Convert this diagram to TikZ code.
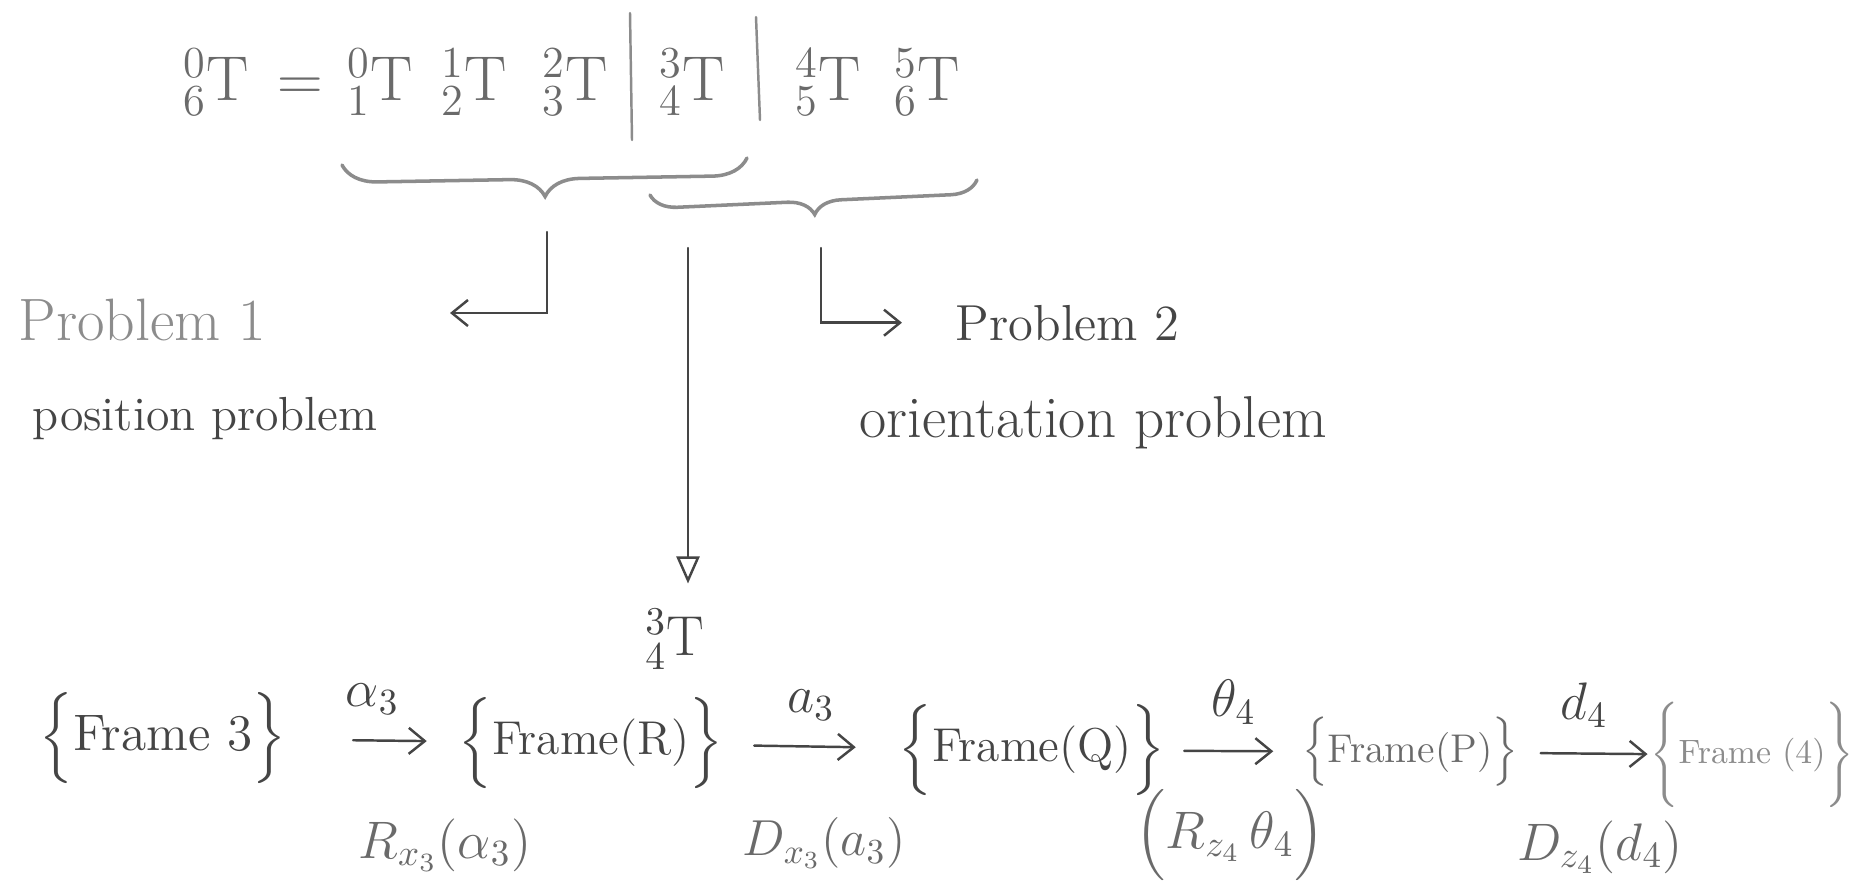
\documentclass[tikz,border=0pt]{standalone}
\usepackage{fix-cm}
\usepackage{amsmath}
\usepackage{fontspec}
\usetikzlibrary{arrows.meta,calc,positioning,decorations.pathreplacing}
\definecolor{Lead}{HTML}{454545}
\definecolor{Graphite}{HTML}{6A6A6A}
\definecolor{Smudge}{HTML}{8C8C8C}

\tikzset{
  hand/.style={inner sep=0pt, text=Lead, font=\fontsize{#1}{#1}\selectfont},
  hand/.default=15,
  pen/.style={draw=Lead, line width=0.7pt, line cap=round},
  bracepen/.style={draw=Smudge, line width=1pt, line cap=round, decorate, decoration={brace, mirror, amplitude=#1}},
  barb/.style={-{Straight Barb[length=1.6mm, width=2.6mm]}},
}

\begin{document}
\begin{tikzpicture}[x=0.01cm, y=-0.01cm]
  \fill[white] (0,0) rectangle (1857,887);
  \useasboundingbox (0,0) rectangle (1857,887);

  % the product of link transforms
  \node[hand=18, text=Graphite, anchor=base] (t06) at (216,100) {${}^{0}_{6}\mathrm{T}$};
  \node[hand=18, text=Graphite, anchor=base] (eq) at (300,100) {$=$};
  \foreach \nm/\px/\up/\dn in {t01/380/0/1, t12/474/1/2, t23/575/2/3, t34/692/3/4, t45/828/4/5, t56/927/5/6}
    \node[hand=18, text=Graphite, anchor=base] (\nm) at (\px,100) {${}^{\up}_{\dn}\mathrm{T}$};
  \draw[pen, draw=Smudge] (630,13) -- (632,140);
  \draw[pen, draw=Smudge] (756,17) -- (760,120);

  % two overlapping groups
  \draw[bracepen=0.35cm] (342,165) -- (747,158);
  \draw[bracepen=0.27cm] (650,195) -- (977,180);
  \coordinate (tip1) at (547,232);
  \coordinate (pos1) at (450,313);
  \coordinate (mid) at (688,248);
  \coordinate (tip2) at (821,248);

  \node[hand=17, text=Smudge, anchor=base west] (p1) at (18,340) {Problem 1};
  \node[hand=13.6, anchor=base west] (p1txt) at (32,430) {position problem};
  \node[hand=14.4, anchor=base west] (p2) at (955,340) {Problem 2};
  \node[hand=16.8, anchor=base west] (p2txt) at (859,437) {orientation problem};

  \draw[pen, barb] (tip1) |- (pos1);
  \draw[pen, barb, shorten >=0.53cm] (tip2) |- (p2.west);

  \node[hand=16, anchor=base] (t34low) at (675,655) {${}^{3}_{4}\mathrm{T}$};
  \draw[pen, -{Triangle[open, length=2.7mm, width=2.3mm]}, shorten >=0.25cm] (mid) -- (mid |- t34low.north);

  % chain of frames
  \node[hand=14.6] (f3) at (163,738) {$\Big\{$Frame 3$\Big\}$};
  \node[hand=13.5] (fR) at (591,743) {$\Big\{$Frame(R)$\Big\}$};
  \node[hand=13.5] (fQ) at (1032,750) {$\Big\{$Frame(Q)$\Big\}$};
  \node[hand=11.4, text=Graphite] (fP) at (1410,752) {$\Big\{$Frame(P)$\Big\}$};
  \node[hand=9.6, text=Smudge] (f4) at (1752,755) {$\Bigg\{$Frame (4)$\Bigg\}$};

  \draw[pen, barb, shorten <=0.66cm, shorten >=0.31cm] (f3) -- node[hand=15, above=0.25cm] (al3) {$\alpha_3$} (fR);
  \draw[pen, barb, shorten <=0.30cm, shorten >=0.42cm] (fR) -- node[hand=15, above=0.25cm] (la3) {$a_3$} (fQ);
  \draw[pen, barb, shorten <=0.18cm, shorten >=0.28cm] (fQ) -- node[hand=15, above=0.25cm] (th4) {$\theta_4$} (fP);
  \draw[pen, barb, shorten <=0.22cm, shorten >=0.02cm] (fP) -- node[hand=15, above=0.25cm] (ld4) {$d_4$} (f4);

  \node[hand=15, text=Graphite] (rx3) at (445,845) {$R_{x_3}(\alpha_3)$};
  \node[hand=14.4, text=Graphite] (dx3) at (824,843) {$D_{x_3}(a_3)$};
  \node[hand=15, text=Graphite] (rz4) at (1230,835) {$\Big(R_{z_4}\,\theta_4\Big)$};
  \node[hand=15, text=Graphite] (dz4) at (1600,847) {$D_{z_4}(d_4)$};
\end{tikzpicture}
\end{document}
